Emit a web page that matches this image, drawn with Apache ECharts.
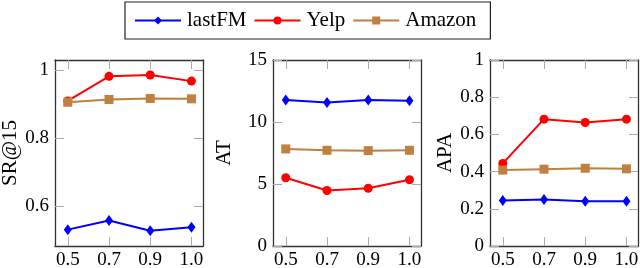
<!DOCTYPE html>
<html>
<head>
<meta charset="utf-8">
<script src="https://cdn.jsdelivr.net/npm/echarts@6/dist/echarts.min.js"></script>
<style>html,body{margin:0;padding:0;background:#fff;}#c{width:640px;height:268px;}</style>
</head>
<body>
<div id="c"></div>
<script>
const seriesNames = ['lastFM', 'Yelp', 'Amazon'];
const xLabels = ['0.5', '0.7', '0.9', '1.0'];

const srLastFM = [0.531, 0.558, 0.528, 0.538];
const srYelp = [0.909, 0.981, 0.985, 0.967];
const srAmazon = [0.905, 0.913, 0.916, 0.915];
const srTicks = [0.6, 0.8, 1.0];

const atLastFM = [11.77, 11.58, 11.77, 11.71];
const atYelp = [5.50, 4.48, 4.66, 5.34];
const atAmazon = [7.83, 7.72, 7.69, 7.72];
const atTicks = [0, 5, 10, 15];

const apaLastFM = [0.244, 0.250, 0.241, 0.241];
const apaYelp = [0.444, 0.682, 0.664, 0.682];
const apaAmazon = [0.408, 0.413, 0.418, 0.415];
const apaTicks = [0, 0.2, 0.4, 0.6, 0.8, 1.0];

const FONT = 'Liberation Serif';
const colors = { lastFM: '#0000ff', Yelp: '#ff0000', Amazon: '#bf8040' };
const symbols = { lastFM: ['diamond', [8, 11]], Yelp: ['circle', 9], Amazon: ['rect', 9] };

const panels = [
  { name: 'SR@15', left: 55, min: 0.483, max: 1.029, ticks: srTicks, gap: 33, data: [srLastFM, srYelp, srAmazon] },
  { name: 'AT', left: 273, min: 0, max: 15, ticks: atTicks, gap: 38, data: [atLastFM, atYelp, atAmazon] },
  { name: 'APA', left: 490, min: 0, max: 1, ticks: apaTicks, gap: 32, data: [apaLastFM, apaYelp, apaAmazon] }
];

const xIdx = xLabels.map((l, j) => j);
const fmtY = v => {
  const r = Math.round(v * 10) / 10;
  return Number.isInteger(r) ? String(r) : r.toFixed(1);
};

const tickStyle = { show: true, inside: true, length: 9, lineStyle: { color: '#aaaaaa', width: 1 } };
const lineStyleAxis = { show: true, onZero: false, lineStyle: { color: '#333333', width: 1.3 } };

const grid = [], xAxis = [], yAxis = [], series = [];
panels.forEach((p, i) => {
  grid.push({ left: p.left, width: 148, top: 60, height: 186, containLabel: false, outerBoundsMode: 'none' });
  xAxis.push({
    type: 'value', gridIndex: i, position: 'bottom', min: -0.31, max: xLabels.length - 1 + 0.28,
    axisLine: lineStyleAxis,
    axisTick: Object.assign({}, tickStyle, { customValues: xIdx }),
    axisLabel: { customValues: xIdx, formatter: v => xLabels[Math.round(v)], fontFamily: FONT, fontSize: 19, color: '#000', margin: 5, hideOverlap: false },
    splitLine: { show: false }
  });
  xAxis.push({
    type: 'value', gridIndex: i, position: 'top', min: -0.31, max: xLabels.length - 1 + 0.28,
    axisLine: lineStyleAxis,
    axisTick: Object.assign({}, tickStyle, { customValues: xIdx }),
    axisLabel: { show: false },
    splitLine: { show: false }
  });
  yAxis.push({
    type: 'value', gridIndex: i, position: 'left', min: p.min, max: p.max,
    name: p.name, nameLocation: 'middle', nameGap: p.gap,
    nameTextStyle: { fontFamily: FONT, fontSize: 21, color: '#000' },
    axisLine: lineStyleAxis,
    axisTick: Object.assign({}, tickStyle, { customValues: p.ticks }),
    axisLabel: { customValues: p.ticks, formatter: fmtY, fontFamily: FONT, fontSize: 19, color: '#000', margin: 6, hideOverlap: false },
    splitLine: { show: false }
  });
  yAxis.push({
    type: 'value', gridIndex: i, position: 'right', min: p.min, max: p.max,
    axisLine: lineStyleAxis,
    axisTick: Object.assign({}, tickStyle, { customValues: p.ticks }),
    axisLabel: { show: false },
    splitLine: { show: false }
  });
  seriesNames.forEach((s, k) => {
    series.push({
      type: 'line', name: s, xAxisIndex: i * 2, yAxisIndex: i * 2,
      data: xIdx.map(j => [j, p.data[k][j]]),
      symbol: symbols[s][0], symbolSize: symbols[s][1],
      lineStyle: { color: colors[s], width: 2 },
      itemStyle: { color: colors[s] },
      animation: false, z: 2 + k
    });
  });
});

const chart = echarts.init(document.getElementById('c'), null, { renderer: 'canvas' });
chart.setOption({
  animation: false,
  backgroundColor: '#fff',
  legend: {
    data: seriesNames, left: 125, top: 2,
    itemWidth: 46, itemHeight: 10, itemGap: 7,
    padding: [8, 14, 8, 9],
    borderColor: '#222', borderWidth: 1.2,
    textStyle: { fontFamily: FONT, fontSize: 21, color: '#000', padding: [0, 0, 0, 1] }
  },
  grid, xAxis, yAxis, series
});
</script>
</body>
</html>
